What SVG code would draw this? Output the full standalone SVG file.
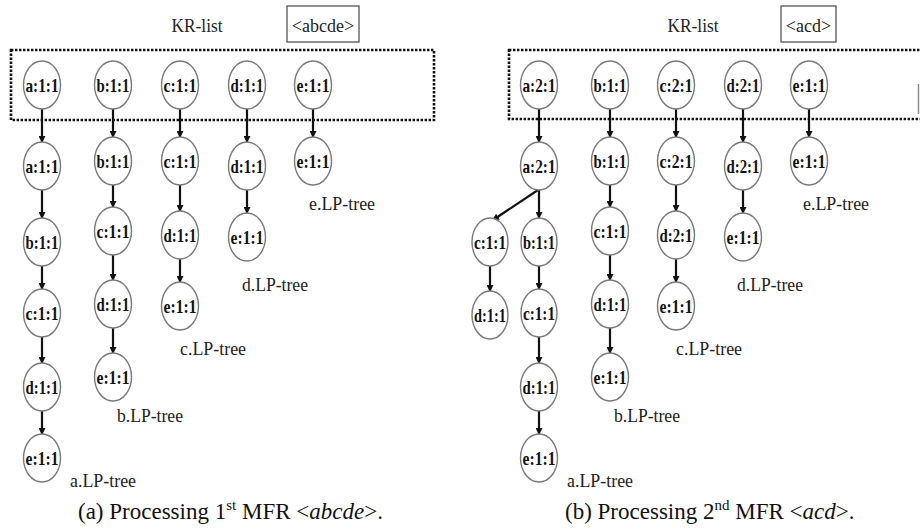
<svg xmlns="http://www.w3.org/2000/svg" width="920" height="531" viewBox="0 0 920 531">
<style>
  .bg{fill:#fff}
  .nd ellipse{fill:#fff;stroke:#7a7a7a;stroke-width:1.4}
  .nd text{font-family:"Liberation Serif","Times New Roman",serif;font-weight:bold;font-size:19px;fill:#111;text-anchor:middle}
  .lbl{font-family:"Liberation Serif","Times New Roman",serif;font-size:19px;fill:#222}
  .ttl{font-family:"Liberation Serif","Times New Roman",serif;font-size:18px;fill:#222;text-anchor:middle}
  .cap{font-family:"Liberation Serif","Times New Roman",serif;font-size:23px;fill:#111}
  .dot{fill:none;stroke:#111;stroke-width:2.6;stroke-dasharray:2.4 1.6}
  .kbox{fill:none;stroke:#555;stroke-width:1.3}
  .cn line{stroke:#111;stroke-width:2.2;marker-end:url(#ah)}
</style>
<defs>
  <marker id="ah" markerUnits="userSpaceOnUse" markerWidth="7" markerHeight="7" refX="6" refY="3.5" orient="auto">
    <path d="M0,0 L7,3.5 L0,7 z" fill="#111"/>
  </marker>
</defs>
<rect class="bg" x="0" y="0" width="920" height="531"/>

<!-- Panel (a) headers -->
<text class="ttl" x="197" y="32" textLength="51" lengthAdjust="spacingAndGlyphs">KR-list</text>
<g id="mfr_a"><rect class="kbox" x="287" y="6" width="72" height="36"/><text class="ttl" x="323" y="32">&lt;abcde&gt;</text></g>
<rect id="krlist_a" class="dot" x="11" y="50" width="423" height="70"/>

<!-- Panel (b) headers -->
<text class="ttl" x="693" y="32" textLength="51" lengthAdjust="spacingAndGlyphs">KR-list</text>
<g id="mfr_b"><rect class="kbox" x="781" y="6" width="55" height="36"/><text class="ttl" x="808.5" y="32">&lt;acd&gt;</text></g>
<rect id="krlist_b" class="dot" x="509" y="50" width="460" height="69"/>
<line x1="918.5" y1="84" x2="918.5" y2="114" stroke="#888" stroke-width="1.4"/>

<!-- connectors -->
<g id="connectors" class="cn">
  <!-- panel a -->
  <line x1="42" y1="109" x2="42" y2="142"/>
  <line x1="42" y1="190" x2="42" y2="218"/>
  <line x1="42" y1="266" x2="42" y2="289"/>
  <line x1="42" y1="337" x2="42" y2="363"/>
  <line x1="42" y1="411" x2="42" y2="434"/>
  <line x1="113" y1="109" x2="113" y2="137"/>
  <line x1="113" y1="185" x2="113" y2="207"/>
  <line x1="113" y1="255" x2="113" y2="280"/>
  <line x1="113" y1="328" x2="113" y2="353"/>
  <line x1="180" y1="109" x2="180" y2="137"/>
  <line x1="180" y1="185" x2="180" y2="211"/>
  <line x1="180" y1="259" x2="180" y2="282"/>
  <line x1="247" y1="109" x2="247" y2="142"/>
  <line x1="247" y1="190" x2="247" y2="213"/>
  <line x1="313" y1="109" x2="313" y2="137"/>
  <!-- panel b -->
  <line x1="539" y1="109" x2="539" y2="142"/>
  <line x1="538" y1="190" x2="493" y2="220"/>
  <line x1="539" y1="190" x2="539" y2="218"/>
  <line x1="490" y1="266" x2="490" y2="291"/>
  <line x1="539" y1="266" x2="539" y2="289"/>
  <line x1="539" y1="337" x2="539" y2="363"/>
  <line x1="539" y1="411" x2="539" y2="434"/>
  <line x1="610" y1="109" x2="610" y2="137"/>
  <line x1="610" y1="185" x2="610" y2="207"/>
  <line x1="610" y1="255" x2="610" y2="280"/>
  <line x1="610" y1="328" x2="610" y2="353"/>
  <line x1="676" y1="109" x2="676" y2="137"/>
  <line x1="676" y1="185" x2="676" y2="211"/>
  <line x1="676" y1="259" x2="676" y2="282"/>
  <line x1="743" y1="109" x2="743" y2="142"/>
  <line x1="743" y1="190" x2="743" y2="213"/>
  <line x1="809" y1="109" x2="809" y2="137"/>
</g>

<!-- panel a nodes -->
<g id="a_kr_a" class="nd"><ellipse cx="42" cy="85" rx="18.5" ry="24"/><text x="42" y="91.5" textLength="33" lengthAdjust="spacingAndGlyphs">a:1:1</text></g>
<g id="a_kr_b" class="nd"><ellipse cx="113" cy="85" rx="18.5" ry="24"/><text x="113" y="91.5" textLength="33" lengthAdjust="spacingAndGlyphs">b:1:1</text></g>
<g id="a_kr_c" class="nd"><ellipse cx="180" cy="85" rx="18.5" ry="24"/><text x="180" y="91.5" textLength="33" lengthAdjust="spacingAndGlyphs">c:1:1</text></g>
<g id="a_kr_d" class="nd"><ellipse cx="247" cy="85" rx="18.5" ry="24"/><text x="247" y="91.5" textLength="33" lengthAdjust="spacingAndGlyphs">d:1:1</text></g>
<g id="a_kr_e" class="nd"><ellipse cx="313" cy="85" rx="18.5" ry="24"/><text x="313" y="91.5" textLength="33" lengthAdjust="spacingAndGlyphs">e:1:1</text></g>

<g id="a_at_a" class="nd"><ellipse cx="42" cy="166" rx="18.5" ry="24"/><text x="42" y="172.5" textLength="33" lengthAdjust="spacingAndGlyphs">a:1:1</text></g>
<g id="a_at_b" class="nd"><ellipse cx="42" cy="242" rx="18.5" ry="24"/><text x="42" y="248.5" textLength="33" lengthAdjust="spacingAndGlyphs">b:1:1</text></g>
<g id="a_at_c" class="nd"><ellipse cx="42" cy="313" rx="18.5" ry="24"/><text x="42" y="319.5" textLength="33" lengthAdjust="spacingAndGlyphs">c:1:1</text></g>
<g id="a_at_d" class="nd"><ellipse cx="42" cy="387" rx="18.5" ry="24"/><text x="42" y="393.5" textLength="33" lengthAdjust="spacingAndGlyphs">d:1:1</text></g>
<g id="a_at_e" class="nd"><ellipse cx="42" cy="458" rx="18.5" ry="24"/><text x="42" y="464.5" textLength="33" lengthAdjust="spacingAndGlyphs">e:1:1</text></g>

<g id="a_bt_b" class="nd"><ellipse cx="113" cy="161" rx="18.5" ry="24"/><text x="113" y="167.5" textLength="33" lengthAdjust="spacingAndGlyphs">b:1:1</text></g>
<g id="a_bt_c" class="nd"><ellipse cx="113" cy="231" rx="18.5" ry="24"/><text x="113" y="237.5" textLength="33" lengthAdjust="spacingAndGlyphs">c:1:1</text></g>
<g id="a_bt_d" class="nd"><ellipse cx="113" cy="304" rx="18.5" ry="24"/><text x="113" y="310.5" textLength="33" lengthAdjust="spacingAndGlyphs">d:1:1</text></g>
<g id="a_bt_e" class="nd"><ellipse cx="113" cy="377" rx="18.5" ry="24"/><text x="113" y="383.5" textLength="33" lengthAdjust="spacingAndGlyphs">e:1:1</text></g>

<g id="a_ct_c" class="nd"><ellipse cx="180" cy="161" rx="18.5" ry="24"/><text x="180" y="167.5" textLength="33" lengthAdjust="spacingAndGlyphs">c:1:1</text></g>
<g id="a_ct_d" class="nd"><ellipse cx="180" cy="235" rx="18.5" ry="24"/><text x="180" y="241.5" textLength="33" lengthAdjust="spacingAndGlyphs">d:1:1</text></g>
<g id="a_ct_e" class="nd"><ellipse cx="180" cy="306" rx="18.5" ry="24"/><text x="180" y="312.5" textLength="33" lengthAdjust="spacingAndGlyphs">e:1:1</text></g>

<g id="a_dt_d" class="nd"><ellipse cx="247" cy="166" rx="18.5" ry="24"/><text x="247" y="172.5" textLength="33" lengthAdjust="spacingAndGlyphs">d:1:1</text></g>
<g id="a_dt_e" class="nd"><ellipse cx="247" cy="237" rx="18.5" ry="24"/><text x="247" y="243.5" textLength="33" lengthAdjust="spacingAndGlyphs">e:1:1</text></g>

<g id="a_et_e" class="nd"><ellipse cx="313" cy="161" rx="18.5" ry="24"/><text x="313" y="167.5" textLength="33" lengthAdjust="spacingAndGlyphs">e:1:1</text></g>

<!-- panel a labels -->
<text class="lbl" x="309" y="210" textLength="66" lengthAdjust="spacingAndGlyphs">e.LP-tree</text>
<text class="lbl" x="242" y="291" textLength="66" lengthAdjust="spacingAndGlyphs">d.LP-tree</text>
<text class="lbl" x="180" y="355" textLength="66" lengthAdjust="spacingAndGlyphs">c.LP-tree</text>
<text class="lbl" x="117" y="422" textLength="66" lengthAdjust="spacingAndGlyphs">b.LP-tree</text>
<text class="lbl" x="70" y="487" textLength="66" lengthAdjust="spacingAndGlyphs">a.LP-tree</text>

<!-- panel b nodes -->
<g id="b_kr_a" class="nd"><ellipse cx="539" cy="85" rx="18.5" ry="24"/><text x="539" y="91.5" textLength="33" lengthAdjust="spacingAndGlyphs">a:2:1</text></g>
<g id="b_kr_b" class="nd"><ellipse cx="610" cy="85" rx="18.5" ry="24"/><text x="610" y="91.5" textLength="33" lengthAdjust="spacingAndGlyphs">b:1:1</text></g>
<g id="b_kr_c" class="nd"><ellipse cx="676" cy="85" rx="18.5" ry="24"/><text x="676" y="91.5" textLength="33" lengthAdjust="spacingAndGlyphs">c:2:1</text></g>
<g id="b_kr_d" class="nd"><ellipse cx="743" cy="85" rx="18.5" ry="24"/><text x="743" y="91.5" textLength="33" lengthAdjust="spacingAndGlyphs">d:2:1</text></g>
<g id="b_kr_e" class="nd"><ellipse cx="809" cy="85" rx="18.5" ry="24"/><text x="809" y="91.5" textLength="33" lengthAdjust="spacingAndGlyphs">e:1:1</text></g>

<g id="b_at_a" class="nd"><ellipse cx="539" cy="166" rx="18.5" ry="24"/><text x="539" y="172.5" textLength="33" lengthAdjust="spacingAndGlyphs">a:2:1</text></g>
<g id="b_at_ac" class="nd"><ellipse cx="490" cy="242" rx="18" ry="24"/><text x="490" y="248.5" textLength="32" lengthAdjust="spacingAndGlyphs">c:1:1</text></g>
<g id="b_at_acd" class="nd"><ellipse cx="490" cy="315" rx="18" ry="24"/><text x="490" y="321.5" textLength="32" lengthAdjust="spacingAndGlyphs">d:1:1</text></g>
<g id="b_at_b" class="nd"><ellipse cx="539" cy="242" rx="18" ry="24"/><text x="539" y="248.5" textLength="32" lengthAdjust="spacingAndGlyphs">b:1:1</text></g>
<g id="b_at_c" class="nd"><ellipse cx="539" cy="313" rx="18" ry="24"/><text x="539" y="319.5" textLength="32" lengthAdjust="spacingAndGlyphs">c:1:1</text></g>
<g id="b_at_d" class="nd"><ellipse cx="539" cy="387" rx="18.5" ry="24"/><text x="539" y="393.5" textLength="33" lengthAdjust="spacingAndGlyphs">d:1:1</text></g>
<g id="b_at_e" class="nd"><ellipse cx="539" cy="458" rx="18.5" ry="24"/><text x="539" y="464.5" textLength="33" lengthAdjust="spacingAndGlyphs">e:1:1</text></g>

<g id="b_bt_b" class="nd"><ellipse cx="610" cy="161" rx="18.5" ry="24"/><text x="610" y="167.5" textLength="33" lengthAdjust="spacingAndGlyphs">b:1:1</text></g>
<g id="b_bt_c" class="nd"><ellipse cx="610" cy="231" rx="18.5" ry="24"/><text x="610" y="237.5" textLength="33" lengthAdjust="spacingAndGlyphs">c:1:1</text></g>
<g id="b_bt_d" class="nd"><ellipse cx="610" cy="304" rx="18.5" ry="24"/><text x="610" y="310.5" textLength="33" lengthAdjust="spacingAndGlyphs">d:1:1</text></g>
<g id="b_bt_e" class="nd"><ellipse cx="610" cy="377" rx="18.5" ry="24"/><text x="610" y="383.5" textLength="33" lengthAdjust="spacingAndGlyphs">e:1:1</text></g>

<g id="b_ct_c" class="nd"><ellipse cx="676" cy="161" rx="18.5" ry="24"/><text x="676" y="167.5" textLength="33" lengthAdjust="spacingAndGlyphs">c:2:1</text></g>
<g id="b_ct_d" class="nd"><ellipse cx="676" cy="235" rx="18.5" ry="24"/><text x="676" y="241.5" textLength="33" lengthAdjust="spacingAndGlyphs">d:2:1</text></g>
<g id="b_ct_e" class="nd"><ellipse cx="676" cy="306" rx="18.5" ry="24"/><text x="676" y="312.5" textLength="33" lengthAdjust="spacingAndGlyphs">e:1:1</text></g>

<g id="b_dt_d" class="nd"><ellipse cx="743" cy="166" rx="18.5" ry="24"/><text x="743" y="172.5" textLength="33" lengthAdjust="spacingAndGlyphs">d:2:1</text></g>
<g id="b_dt_e" class="nd"><ellipse cx="743" cy="237" rx="18.5" ry="24"/><text x="743" y="243.5" textLength="33" lengthAdjust="spacingAndGlyphs">e:1:1</text></g>

<g id="b_et_e" class="nd"><ellipse cx="809" cy="161" rx="18.5" ry="24"/><text x="809" y="167.5" textLength="33" lengthAdjust="spacingAndGlyphs">e:1:1</text></g>

<!-- panel b labels -->
<text class="lbl" x="803" y="210" textLength="66" lengthAdjust="spacingAndGlyphs">e.LP-tree</text>
<text class="lbl" x="737" y="291" textLength="66" lengthAdjust="spacingAndGlyphs">d.LP-tree</text>
<text class="lbl" x="676" y="355" textLength="66" lengthAdjust="spacingAndGlyphs">c.LP-tree</text>
<text class="lbl" x="614" y="422" textLength="66" lengthAdjust="spacingAndGlyphs">b.LP-tree</text>
<text class="lbl" x="567" y="487" textLength="66" lengthAdjust="spacingAndGlyphs">a.LP-tree</text>

<!-- captions -->
<text class="cap" x="78" y="519">(a) Processing 1<tspan font-size="15" dy="-9">st</tspan><tspan dy="9"> MFR &lt;</tspan><tspan font-style="italic">abcde</tspan>&gt;.</text>
<text class="cap" x="565" y="519">(b) Processing 2<tspan font-size="15" dy="-9">nd</tspan><tspan dy="9"> MFR &lt;</tspan><tspan font-style="italic">acd</tspan>&gt;.</text>
</svg>
